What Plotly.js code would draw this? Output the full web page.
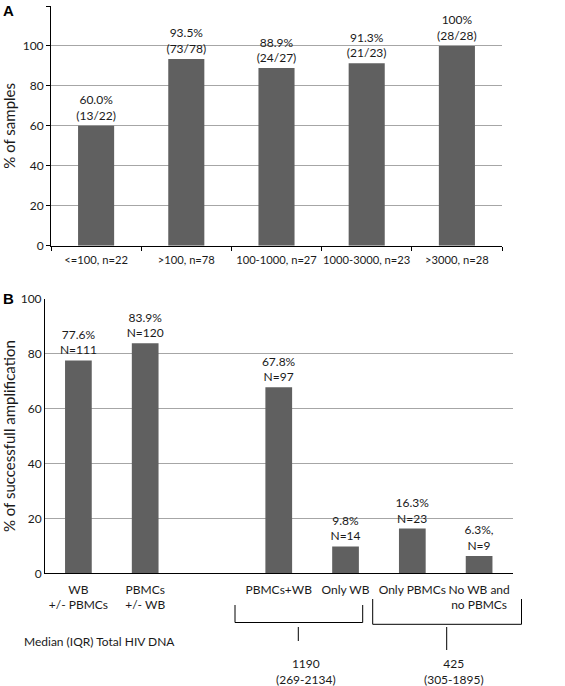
<!DOCTYPE html>
<html>
<head>
<meta charset="utf-8">
<script src="https://cdn.plot.ly/plotly-3.0.1.min.js"></script>
<style>html,body{margin:0;padding:0;background:#fff}#chart{width:565px;height:686px}</style>
</head>
<body>
<div id="chart"></div>
<script>
// Panel A data
const catsA = ["<=100, n=22", ">100, n=78", "100-1000, n=27", "1000-3000, n=23", ">3000, n=28"];
const valsA = [60.0, 93.5, 88.9, 91.3, 100];
const labelsA = ["60.0%<br>(13/22)", "93.5%<br>(73/78)", "88.9%<br>(24/27)", "91.3%<br>(21/23)", "100%<br>(28/28)"];

// Panel B data
const catsB = ["WB<br>+/- PBMCs", "PBMCs<br>+/- WB", " ", "PBMCs+WB", "Only WB", "Only PBMCs", "No WB and<br>no PBMCs"];
const valsB = [77.6, 83.9, null, 67.8, 9.8, 16.3, 6.3];
const labelsB = ["77.6%<br>N=111", "83.9%<br>N=120", "", "67.8%<br>N=97", "9.8%<br>N=14", "16.3%<br>N=23", "6.3%,<br>N=9"];

// Group medians
const medianTitle = "Median (IQR) Total HIV DNA";
const groupMedians = ["1190<br>(269-2134)", "425<br>(305-1895)"];

const W = 565, H = 686;
const px = x => x / W;
const py = y => 1 - y / H;

const FONT = "Lato, 'Open Sans', sans-serif";
const BAR = "#606060";
const GRID = "#a6a6a6";
const TXT = "#1a1a1a";

const traces = [
  {
    type: "bar", x: catsA, y: valsA, xaxis: "x", yaxis: "y",
    marker: {color: BAR}, text: labelsA, textposition: "outside", constraintext: "none",
    textfont: {family: FONT, size: 12, color: TXT}, cliponaxis: false,
    hoverinfo: "x+y", showlegend: false
  },
  {
    type: "bar", x: catsB, y: valsB, xaxis: "x2", yaxis: "y2",
    marker: {color: BAR}, text: labelsB, textposition: "outside", constraintext: "none",
    textfont: {family: FONT, size: 12, color: TXT}, cliponaxis: false,
    hoverinfo: "x+y", showlegend: false
  }
];

const shapeLine = {color: "#000", width: 1};
const shapes = [
  // bracket group 1
  {type: "path", xref: "paper", yref: "paper",
   path: `M ${px(235)} ${py(605)} L ${px(235)} ${py(622.5)} L ${px(362.7)} ${py(622.5)} L ${px(362.7)} ${py(605)}`,
   line: shapeLine},
  {type: "line", xref: "paper", yref: "paper", x0: px(298.3), x1: px(298.3), y0: py(627), y1: py(641), line: shapeLine},
  // bracket group 2
  {type: "path", xref: "paper", yref: "paper",
   path: `M ${px(372.7)} ${py(599)} L ${px(372.7)} ${py(624.3)} L ${px(521.5)} ${py(624.3)} L ${px(521.5)} ${py(599)}`,
   line: shapeLine},
  {type: "line", xref: "paper", yref: "paper", x0: px(446.7), x1: px(446.7), y0: py(627), y1: py(650), line: shapeLine}
];

const annotations = [
  {text: "<b>A</b>", xref: "paper", yref: "paper", x: px(1), y: py(10), xanchor: "left", yanchor: "middle",
   showarrow: false, font: {family: "'Liberation Sans', Arial, sans-serif", size: 15, color: "#000"}},
  {text: "<b>B</b>", xref: "paper", yref: "paper", x: px(1), y: py(298), xanchor: "left", yanchor: "middle",
   showarrow: false, font: {family: "'Liberation Sans', Arial, sans-serif", size: 15, color: "#000"}},
  {text: medianTitle, xref: "paper", yref: "paper", x: px(22), y: py(641.5), xanchor: "left", yanchor: "middle",
   showarrow: false, font: {family: FONT, size: 12, color: TXT}},
  {text: groupMedians[0], xref: "paper", yref: "paper", x: px(305.7), y: py(671), xanchor: "center", yanchor: "middle",
   showarrow: false, font: {family: FONT, size: 12, color: TXT}},
  {text: groupMedians[1], xref: "paper", yref: "paper", x: px(454), y: py(671), xanchor: "center", yanchor: "middle",
   showarrow: false, font: {family: FONT, size: 12, color: TXT}}
];

const layout = {
  width: W, height: H,
  margin: {l: 0, r: 0, t: 0, b: 0},
  paper_bgcolor: "#fff", plot_bgcolor: "#fff",
  font: {family: FONT, size: 12, color: TXT},
  bargap: 0.6,
  showlegend: false,
  xaxis: {
    domain: [px(51), px(502)], anchor: "y",
    type: "category", tickson: "boundaries", ticks: "outside", ticklen: 4, tickcolor: "#000",
    tickangle: 0, ticklabelstandoff: 4,
    showline: true, linecolor: "#000", linewidth: 1, showgrid: false, zeroline: false,
    tickfont: {family: FONT, size: 11.2, color: TXT}, fixedrange: true
  },
  yaxis: {
    domain: [py(245.7), py(6)], anchor: "x",
    range: [0, 120], dtick: 20, ticks: "outside", ticklen: 4, tickcolor: "#000",
    showline: true, linecolor: "#000", linewidth: 1,
    showgrid: true, gridcolor: GRID, gridwidth: 1, zeroline: false,
    tickfont: {family: FONT, size: 12, color: TXT},
    title: {text: "% of samples", font: {family: FONT, size: 15, color: TXT}, standoff: 8},
    fixedrange: true
  },
  xaxis2: {
    domain: [px(45), px(512.5)], anchor: "y2",
    type: "category", ticks: "", tickangle: 0, ticklabelstandoff: 5,
    showline: true, linecolor: "#000", linewidth: 1,
    showgrid: false, zeroline: false,
    tickfont: {family: FONT, size: 12, color: TXT}, fixedrange: true
  },
  yaxis2: {
    domain: [py(573.3), py(299)], anchor: "x2",
    range: [0, 100], dtick: 20, ticks: "",
    showline: true, linecolor: "#000", linewidth: 1,
    showgrid: true, gridcolor: GRID, gridwidth: 1, zeroline: false,
    tickfont: {family: FONT, size: 12, color: TXT},
    title: {text: "% of successfull amplification", font: {family: FONT, size: 15, color: TXT}, standoff: 8},
    fixedrange: true
  },
  shapes: shapes,
  annotations: annotations
};

Plotly.newPlot("chart", traces, layout, {displayModeBar: false, staticPlot: true});
</script>
</body>
</html>
